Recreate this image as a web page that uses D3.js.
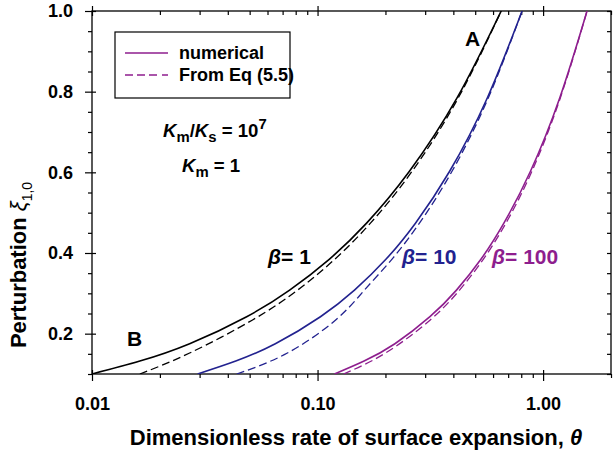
<!DOCTYPE html>
<html><head><meta charset="utf-8">
<script src="https://cdn.jsdelivr.net/npm/d3@7"></script>
<style>
body{margin:0;background:#fff;}
svg{display:block;font-family:"Liberation Sans",Arial,Helvetica,sans-serif;}
</style></head>
<body><svg id="c" width="613" height="459"></svg>
<script>
// ---------- data ----------
const xDomain = [0.01, 2.0];
const yDomain = [0.1, 1.0];
const xMajorTicks = [0.01, 0.1, 1.0];
const xTickLabels = ["0.01", "0.10", "1.00"];
const yMajorTicks = [0.2, 0.4, 0.6, 0.8, 1.0];
const yTickLabels = ["0.2", "0.4", "0.6", "0.8", "1.0"];
const yMinorTicks = [0.1, 0.15, 0.25, 0.3, 0.35, 0.45, 0.5, 0.55, 0.65, 0.7, 0.75, 0.85, 0.9, 0.95];

// beta = 1
const beta1NumTheta = [0.0100, 0.0163, 0.0271, 0.0485, 0.0752, 0.113, 0.165, 0.255, 0.416, 0.652];
const beta1NumXi    = [0.100, 0.132, 0.175, 0.242, 0.308, 0.385, 0.474, 0.602, 0.785, 1.000];
const beta1EqTheta  = [0.0163, 0.0271, 0.0515, 0.0816, 0.1195, 0.1716, 0.262, 0.421, 0.652];
const beta1EqXi     = [0.100, 0.152, 0.234, 0.308, 0.385, 0.474, 0.602, 0.785, 1.000];
// beta = 10
const beta10NumTheta = [0.0294, 0.0434, 0.0650, 0.1030, 0.1458, 0.2014, 0.2717, 0.3846, 0.5663, 0.807];
const beta10NumXi    = [0.100, 0.132, 0.175, 0.242, 0.308, 0.385, 0.474, 0.602, 0.785, 1.000];
const beta10EqTheta  = [0.0438, 0.0735, 0.1203, 0.1614, 0.214, 0.283, 0.394, 0.572, 0.807];
const beta10EqXi     = [0.100, 0.152, 0.234, 0.308, 0.385, 0.474, 0.602, 0.785, 1.000];
// beta = 100
const beta100NumTheta = [0.1189, 0.1608, 0.2203, 0.315, 0.413, 0.531, 0.670, 0.878, 1.186, 1.566];
const beta100NumXi    = [0.100, 0.132, 0.175, 0.242, 0.308, 0.385, 0.474, 0.602, 0.785, 1.000];
const beta100EqTheta  = [0.1303, 0.200, 0.316, 0.426, 0.544, 0.684, 0.891, 1.193, 1.566];
const beta100EqXi     = [0.100, 0.152, 0.234, 0.308, 0.385, 0.474, 0.602, 0.785, 1.000];

const colBlack = "#000000", colBlue = "#22228f", colPurple = "#8e1e8e";

// ---------- layout ----------
const L = 92, R = 611, T = 11, B = 374;
const svg = d3.select("#c");
const x = d3.scaleLog().domain(xDomain).range([L, R]);
const y = d3.scaleLinear().domain(yDomain).range([B, T]);

const xMinor = [];
[0.01, 0.1, 1].forEach(d => { for (let k = 2; k <= 9; k++) { const v = d * k; if (v <= xDomain[1] + 1e-9) xMinor.push(v); } });

svg.append("clipPath").attr("id", "clip").append("rect")
  .attr("x", L).attr("y", T).attr("width", R - L).attr("height", B - T);

const FONT = "Liberation Sans, Arial, sans-serif";
// ---------- axes ----------
const g = svg.append("g");
g.append("g").attr("transform", `translate(0,${B})`)
  .call(d3.axisBottom(x).tickValues(xMinor).tickSize(4).tickFormat(""))
  .call(a => a.select(".domain").remove());
g.append("g").attr("transform", `translate(0,${B})`)
  .call(d3.axisBottom(x).tickValues(xMajorTicks).tickSize(7).tickFormat((d, i) => xTickLabels[i]).tickPadding(16))
  .call(a => a.select(".domain").remove())
  .call(a => a.selectAll("line").attr("y1", -4))
  .call(a => a.selectAll("text").attr("font-size", 18).attr("font-weight", "bold").attr("fill", "#000")
    .attr("font-family", FONT));
g.append("g").attr("transform", `translate(0,${T})`)
  .call(d3.axisTop(x).tickValues(xMinor).tickSize(-4).tickFormat(""))
  .call(a => a.select(".domain").remove());
g.append("g").attr("transform", `translate(0,${T})`)
  .call(d3.axisTop(x).tickValues(xMajorTicks).tickSize(5).tickFormat(""))
  .call(a => a.select(".domain").remove())
  .call(a => a.selectAll("line").attr("y1", 5));
g.append("g").attr("transform", `translate(${L},0)`)
  .call(d3.axisLeft(y).tickValues(yMinorTicks).tickSize(4).tickFormat(""))
  .call(a => a.select(".domain").remove());
g.append("g").attr("transform", `translate(${L},0)`)
  .call(d3.axisLeft(y).tickValues(yMajorTicks).tickSize(7).tickFormat((d, i) => yTickLabels[i]).tickPadding(12))
  .call(a => a.select(".domain").remove())
  .call(a => a.selectAll("line").attr("x1", 4))
  .call(a => a.selectAll("text").attr("font-size", 18).attr("font-weight", "bold").attr("fill", "#000")
    .attr("font-family", FONT));
g.append("g").attr("transform", `translate(${R},0)`)
  .call(d3.axisRight(y).tickValues(yMinorTicks.concat(yMajorTicks)).tickSize(-4).tickFormat(""))
  .call(a => a.select(".domain").remove());
g.selectAll("line").attr("stroke", "#000").attr("stroke-width", 1.2);
svg.append("rect").attr("x", L).attr("y", T).attr("width", R - L).attr("height", B - T)
  .attr("fill", "none").attr("stroke", "#000").attr("stroke-width", 1.3);

// ---------- curves ----------
const line = d3.line().x(d => x(d[0])).y(d => y(d[1])).curve(d3.curveNatural);
const series = [
  {t: beta1NumTheta, v: beta1NumXi, c: colBlack, dash: null},
  {t: beta1EqTheta, v: beta1EqXi, c: colBlack, dash: "8,4"},
  {t: beta10NumTheta, v: beta10NumXi, c: colBlue, dash: null},
  {t: beta10EqTheta, v: beta10EqXi, c: colBlue, dash: "8,4"},
  {t: beta100NumTheta, v: beta100NumXi, c: colPurple, dash: null},
  {t: beta100EqTheta, v: beta100EqXi, c: colPurple, dash: "8,4"}
];
const cg = svg.append("g").attr("clip-path", "url(#clip)");
series.forEach(s => {
  cg.append("path").datum(s.t.map((t, i) => [t, s.v[i]]))
    .attr("d", line).attr("fill", "none").attr("stroke", s.c)
    .attr("stroke-width", s.dash ? 1.3 : 1.6)
    .attr("stroke-dasharray", s.dash);
});

// ---------- legend ----------
const lg = svg.append("g");
lg.append("rect").attr("x", 115).attr("y", 32).attr("width", 175).attr("height", 66)
  .attr("fill", "#fff").attr("stroke", "#000").attr("stroke-width", 1.2);
lg.append("line").attr("x1", 125).attr("x2", 168).attr("y1", 53).attr("y2", 53)
  .attr("stroke", colPurple).attr("stroke-width", 1.6);
lg.append("line").attr("x1", 125).attr("x2", 168).attr("y1", 75).attr("y2", 75)
  .attr("stroke", colPurple).attr("stroke-width", 1.3).attr("stroke-dasharray", "8,4,8,4,8,5,2,0");
lg.append("text").attr("x", 179).attr("y", 59).text("numerical")
  .attr("font-size", 18).attr("font-weight", "bold");
lg.append("text").attr("x", 179).attr("y", 81).text("From Eq (5.5)")
  .attr("font-size", 18).attr("font-weight", "bold");

// ---------- annotations ----------
function annot(xp, yp, color, parts, size) {
  const fs = size || 21;
  const t = svg.append("text").attr("x", xp).attr("y", yp).attr("fill", color)
    .attr("font-size", fs).attr("font-weight", "bold");
  parts.forEach(p => {
    const ts = t.append("tspan").text(p.s);
    if (p.it) ts.attr("font-style", "italic");
    if (p.small) ts.attr("font-size", fs * 0.8);
    if (p.dy) ts.attr("dy", p.dy);
  });
  return t;
}
annot(163, 137, "#000", [
  {s: "K", it: true}, {s: "m", small: true, dy: 5}, {s: "/", dy: -5},
  {s: "K", it: true}, {s: "s", small: true, dy: 5}, {s: " = 10", dy: -5},
  {s: "7", small: true, dy: -8}
], 18.6);
annot(182, 172, "#000", [{s: "K", it: true}, {s: "m", small: true, dy: 5}, {s: " = 1", dy: -5}], 18.6);
annot(465, 46, "#000", [{s: "A"}]);
annot(127, 346, "#000", [{s: "B"}]);
annot(268, 264, colBlack, [{s: "β", it: true}, {s: "= 1"}]);
annot(402, 264, colBlue, [{s: "β", it: true}, {s: "= 10"}]);
annot(492, 264, colPurple, [{s: "β", it: true}, {s: "= 100"}]);

// ---------- axis titles ----------
const xt = svg.append("text").attr("x", 356).attr("y", 445).attr("text-anchor", "middle")
  .attr("font-size", 22).attr("font-weight", "bold");
xt.append("tspan").text("Dimensionless rate of surface expansion, ");
xt.append("tspan").text("θ").attr("font-style", "italic");

const yt = svg.append("text").attr("transform", "translate(26,265) rotate(-90)")
  .attr("text-anchor", "middle").attr("font-size", 22).attr("font-weight", "bold");
yt.append("tspan").text("Perturbation  ");
yt.append("tspan").text("ξ").attr("font-style", "italic").attr("font-weight", "normal");
yt.append("tspan").text("1,0").attr("font-size", 14).attr("dy", 6).attr("font-weight", "normal");
</script>
</body></html>
